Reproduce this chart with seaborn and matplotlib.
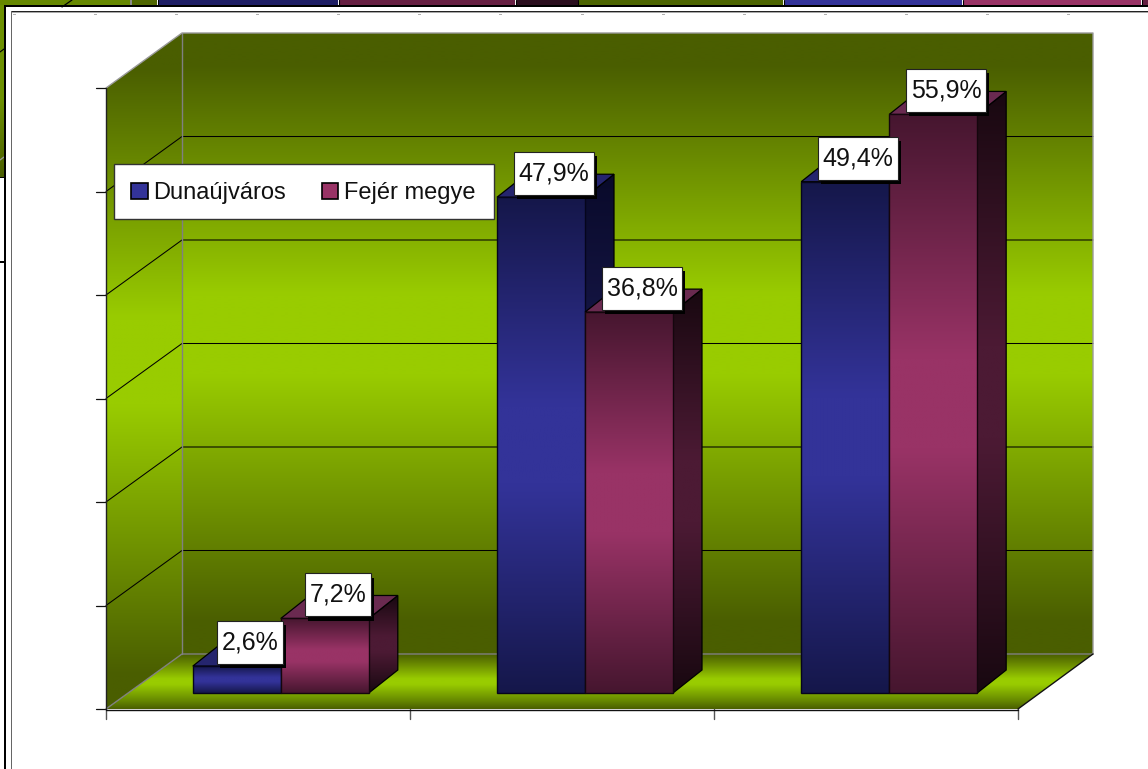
import numpy as np
import pandas as pd
import matplotlib
matplotlib.use("Agg")
import matplotlib.pyplot as plt
import matplotlib.patheffects as pe
from matplotlib.colors import to_rgb
from matplotlib.patches import Polygon, Rectangle, Patch
from matplotlib.path import Path
import seaborn as sns

categories = ["1", "2", "3"]
series_names = ["Dunaújváros", "Fejér megye"]
dunaujvaros = [2.6, 47.9, 49.4]
fejer = [7.2, 36.8, 55.9]
labels_dunaujvaros = ["2,6%", "47,9%", "49,4%"]
labels_fejer = ["7,2%", "36,8%", "55,9%"]

W, H = 1148, 769
sns.set_theme(style="white")
plt.rcParams["font.family"] = ["Liberation Sans", "DejaVu Sans"]
fig = plt.figure(figsize=(W / 100, H / 100), dpi=100, facecolor="white")

# ---- pixel-space canvas for the chart furniture
bg = fig.add_axes([0, 0, 1, 1], zorder=0)
bg.set_axis_off()


def gradient(ax, stops, extent, clip, zorder):
    pos = [s[0] for s in stops]
    cols = np.array([to_rgb(s[1]) for s in stops])
    t = np.linspace(0, 1, 256)
    arr = np.stack([np.interp(t, pos, cols[:, i]) for i in range(3)], axis=1)[:, None, :]
    im = ax.imshow(arr, extent=extent, aspect="auto", interpolation="bilinear", zorder=zorder)
    im.set_clip_path(clip)
    return im


WALL_D, WALL_B = "#4a5e00", "#99cc00"
wall = [(0, WALL_D), (0.05, WALL_D), (0.42, WALL_B), (0.55, WALL_B), (0.95, WALL_D), (1, WALL_D)]
floor = [(0, WALL_D), (0.2, "#6d8e00"), (0.45, WALL_B), (0.55, WALL_B), (0.85, "#668800"), (1, WALL_D)]

back = Polygon([(182, 33), (1093, 33), (1093, 654), (182, 654)], closed=True, fc="none", ec="none")
left = Polygon([(106, 88), (182, 33), (182, 654), (106, 709)], closed=True, fc="none", ec="none")
flr = Polygon([(106, 709), (1018, 709), (1093, 654), (182, 654)], closed=True, fc="none", ec="none")
for p in (back, left, flr):
    bg.add_patch(p)
gradient(bg, wall, (182, 1093, 654, 33), back, 1)
gradient(bg, wall, (106, 182, 709, 33), left, 1)
gradient(bg, floor, (106, 1093, 709, 654), flr, 1)

# ---- gridlines and axis furniture (10% steps)
FRONT_STEP, BACK_STEP = 103.5, 103.5
for k in range(1, 6):
    yb = 654 - BACK_STEP * k
    yf = 709 - FRONT_STEP * k
    bg.plot([106, 182, 1093], [yf, yb, yb], color="black", lw=0.75, zorder=2)
for k in range(0, 7):
    yf = 709 - FRONT_STEP * k
    bg.plot([96, 106], [yf, yf], color="#111111", lw=0.9, zorder=3)
for k in range(0, 4):
    x = 106 + 304 * k
    bg.plot([x, x], [709, 719], color="#555555", lw=1.0, zorder=3)
bg.plot([182, 182], [33, 654], color="#808080", lw=1.0, zorder=2)
bg.plot([106, 182, 1093, 1093], [88, 33, 33, 654], color="#9a9a9a", lw=1.0, zorder=2)
bg.plot([106, 182, 1093], [709, 654, 654], color="#808080", lw=1.0, zorder=2)
bg.plot([106, 106], [88, 709], color="#222222", lw=1.0, zorder=3)
bg.plot([106, 1018], [709.5, 709.5], color="#111111", lw=1.0, zorder=3)
bg.plot([1018, 1093], [709, 654], color="#111111", lw=1.0, zorder=3)

# ---- legend frame
bg.add_patch(Rectangle((114, 164), 380, 55, fc="white", ec="#333333", lw=1.0, zorder=4))

# ---- outer slide fragments
bg.add_patch(Rectangle((0, 0), 130, 5, fc="#668800", ec="none", zorder=5))
bg.add_patch(Rectangle((130, 0), 2, 5, fc="#8a8a8a", ec="none", zorder=5))
bg.add_patch(Rectangle((132, 0), 25, 5, fc="#4f6600", ec="none", zorder=5))
bg.add_patch(Rectangle((158, 0), 180, 5, fc="#1e1e64", ec="none", zorder=5))
bg.add_patch(Rectangle((339, 0), 176, 5, fc="#661f42", ec="none", zorder=5))
bg.add_patch(Rectangle((517, 0), 61, 5, fc="#2a0e1e", ec="none", zorder=5))
bg.add_patch(Rectangle((578, 0), 205, 5, fc="#4c6400", ec="none", zorder=5))
bg.add_patch(Rectangle((785, 0), 177, 5, fc="#333399", ec="none", zorder=5))
bg.add_patch(Rectangle((964, 0), 177, 5, fc="#993366", ec="none", zorder=5))
bg.add_patch(Rectangle((1142, 0), 6, 5, fc="#661f42", ec="none", zorder=5))
for x in (157.5, 338.5, 516, 578, 784, 963, 1141.5):
    bg.plot([x, x], [0, 5], color="black", lw=0.8, zorder=6)
bg.plot([72, 62], [0, 7], color="black", lw=0.9, zorder=6)
sliver = Rectangle((0, 5), 4, 172, fc="none", ec="none")
bg.add_patch(sliver)
gradient(bg, [(0, "#6d9000"), (0.55, "#6d9000"), (1, "#4a5e00")], (0, 4, 177, 5), sliver, 5)
bg.plot([0, 4], [52, 49], color="black", lw=0.8, zorder=6)
bg.plot([0, 4], [160, 157], color="#9a9a9a", lw=0.9, zorder=6)
bg.add_patch(Rectangle((4, 5), W, 2, fc="black", ec="none", zorder=7))
bg.add_patch(Rectangle((4, 5), 2, H, fc="black", ec="none", zorder=7))
bg.add_patch(Rectangle((0, 176.5), 4, 1.2, fc="black", ec="none", zorder=7))
bg.add_patch(Rectangle((0, 261), 4, 1.6, fc="black", ec="none", zorder=7))
bg.add_patch(Rectangle((10.5, 11), W, 1.3, fc="#222222", ec="none", zorder=7))
bg.add_patch(Rectangle((10.5, 12.3), W, 1.0, fc="#a8a8a8", ec="none", zorder=7))
bg.add_patch(Rectangle((10.5, 11), 1.8, H, fc="#666666", ec="none", zorder=7))
for k in range(14):
    bg.add_patch(Rectangle((12.5 + 81.15 * k, 14), 3, 1.3, fc="#b0b0b0", ec="none", zorder=7))

bg.set_xlim(0, W)
bg.set_ylim(H, 0)

# ---- the bars, on a value axis whose zero sits on the floor
PX_PER_UNIT = 10.35
CAT_ORIGIN, CAT_STEP = 280.8, 304.2
BASE_Y = 693
ax = fig.add_axes([0, 0, 1, 1], zorder=1)
ax.patch.set_alpha(0)

df = pd.DataFrame({
    "category": categories * 2,
    "series": [series_names[0]] * 3 + [series_names[1]] * 3,
    "value": dunaujvaros + fejer,
})
BLUE, MAROON = "#333399", "#993366"
palette = dict(zip(series_names, [BLUE, MAROON]))
sns.barplot(data=df, x="category", y="value", hue="series", hue_order=series_names, palette=palette,
            width=176 / 304.2, gap=0, dodge=True, saturation=1, legend=False,
            edgecolor="black", linewidth=1.0, ax=ax, zorder=3)

xlim = ((0 - CAT_ORIGIN) / CAT_STEP, (W - CAT_ORIGIN) / CAT_STEP)
ylim = ((BASE_Y - H) / PX_PER_UNIT, BASE_Y / PX_PER_UNIT)

DX = 29 / CAT_STEP
DY = 23 / PX_PER_UNIT


def ramp(dark, mid):
    return [(0, dark), (0.42, mid), (0.58, mid), (1, dark)]


STYLE = {
    0: dict(front=ramp("#15174a", BLUE), side=ramp("#090a2a", "#1a1a4f"), top="#25256e", edge="#05051c"),
    1: dict(front=ramp("#46162f", MAROON), side=ramp("#180810", "#4c1a34"), top="#6a2a50", edge="#14060d"),
}
LABELS = [labels_dunaujvaros, labels_fejer]


def label_box(x0, y0, w, h, scale):
    # fixed-height white label round the number (units are pixels)
    bw, bh = w + 9.5, 43
    cx, cy = x0 + w / 2, y0 + h / 2
    left_, low = cx - bw / 2, cy - bh / 2
    return Path([(left_, low), (left_ + bw, low), (left_ + bw, low + bh), (left_, low + bh), (left_, low)], closed=True)


for s, container in enumerate(ax.containers):
    st = STYLE[s]
    for i, bar in enumerate(container):
        x0, w, h = bar.get_x(), bar.get_width(), bar.get_height()
        x1 = x0 + w
        z = 3 + s * 2 + i * 0.01
        side = Polygon([(x1, 0), (x1 + DX, DY), (x1 + DX, h + DY), (x1, h)], closed=True, fc="none", ec="black", lw=0.9, zorder=z + 0.3)
        ax.add_patch(side)
        gradient(ax, st["side"], (x1, x1 + DX, 0, h + DY), side, z + 0.2)
        ax.add_patch(Polygon([(x0, h), (x1, h), (x1 + DX, h + DY), (x0 + DX, h + DY)], closed=True,
                             fc=st["top"], ec="black", lw=0.9, zorder=z + 0.3))
        rect = Rectangle((x0, 0), w, h, fc="none", ec="none")
        ax.add_patch(rect)
        gradient(ax, st["front"], (x0, x1, 0, h), rect, z + 0.4)
        bar.set_facecolor("none")
        bar.set_edgecolor(st["edge"])
        bar.set_zorder(z + 0.5)
        ann = ax.annotate(LABELS[s][i], xy=(x0 + w / 2, h), xytext=(13 * 0.72, 23.5 * 0.72),
                          textcoords="offset points", ha="center", va="center", fontsize=18, color="#111111",
                          zorder=20, annotation_clip=False,
                          bbox=dict(boxstyle=label_box, fc="white", ec="#222222", lw=0.8))
        ann.get_bbox_patch().set_path_effects(
            [pe.SimplePatchShadow(offset=(2.2, -2.9), shadow_rgbFace="black", alpha=1), pe.Normal()])

ax.set_xlim(*xlim)
ax.set_ylim(*ylim)
ax.set_axis_off()

handles = [Patch(fc=BLUE, ec="black", lw=1.2), Patch(fc=MAROON, ec="black", lw=1.2)]
ax.legend(handles, series_names, ncol=2, loc="upper left", frameon=False,
          bbox_to_anchor=(113 / W, 1 - 164 / H), bbox_transform=fig.transFigure, borderaxespad=0,
          fontsize=17.05, borderpad=0.78, handlelength=0.68, handleheight=0.7, handletextpad=0.25,
          columnspacing=1.5, labelcolor="#111111").set_zorder(10)

fig.savefig("out.png", dpi=100)
